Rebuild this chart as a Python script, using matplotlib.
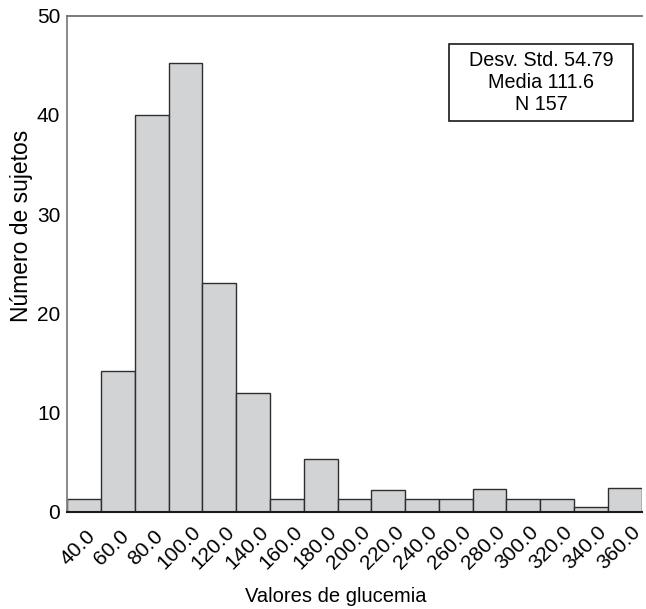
import matplotlib
matplotlib.use("Agg")
import matplotlib.pyplot as plt
from matplotlib.transforms import ScaledTranslation
from matplotlib.patches import Rectangle

plt.rcParams['font.family'] = ['Liberation Sans', 'DejaVu Sans']

bin_centers = [40, 60, 80, 100, 120, 140, 160, 180, 200, 220, 240, 260, 280, 300, 320, 340, 360]
counts = [1.3, 14.2, 40.0, 45.2, 23.1, 12.0, 1.3, 5.3, 1.3, 2.2, 1.3, 1.3, 2.3, 1.3, 1.3, 0.5, 2.4]
tick_labels = [f"{v:.1f}" for v in bin_centers]
stats_lines = ["Desv. Std. 54.79", "Media 111.6", "N 157"]
y_ticks = [0, 10, 20, 30, 40, 50]

fig = plt.figure(figsize=(6.46, 6.09), dpi=100)
ax = fig.add_axes([0.1042, 0.1598, 0.889, 0.8144])

ax.bar(bin_centers, counts, width=20, color='#d2d3d5', edgecolor='#2e2e2e', linewidth=1.0, zorder=2)

ax.set_xlim(30, 370)
ax.set_ylim(0, 50)
ax.set_xticks(bin_centers)
ax.set_xticklabels(tick_labels, rotation=45, ha='center', va='center', rotation_mode='anchor', fontsize=15)
ax.set_yticks(y_ticks)
ax.set_yticklabels([str(v) for v in y_ticks], fontsize=15)
ax.tick_params(axis='both', length=0)
ax.tick_params(axis='y', pad=5)
ax.tick_params(axis='x', pad=26)
shift = ScaledTranslation(-6 / 100, 0, fig.dpi_scale_trans)
for lab in ax.get_xticklabels():
    lab.set_transform(lab.get_transform() + shift)

ax.spines['right'].set_visible(False)
ax.spines['left'].set_color('#808080')
ax.spines['left'].set_linewidth(1.3)
ax.spines['top'].set_color('#707070')
ax.spines['top'].set_linewidth(1.3)
ax.spines['bottom'].set_color('#1a1a1a')
ax.spines['bottom'].set_linewidth(1.5)
ax.spines['bottom'].set_zorder(3)

ax.set_xlabel("Valores de glucemia", fontsize=14.5)
ax.xaxis.set_label_coords(0.468, -0.152)
ax.set_ylabel("Número de sujetos", fontsize=16.5)
ax.yaxis.set_label_coords(-0.060, 0.576)

ax.add_patch(Rectangle((0.6645, 0.7877), 0.3204, 0.1553, transform=ax.transAxes,
                       facecolor='white', edgecolor='#1a1a1a', linewidth=1.2, zorder=4))
ax.text(0.8247, 0.8653, "\n".join(stats_lines), transform=ax.transAxes,
        ha='center', va='center', fontsize=14.2, linespacing=1.2, zorder=5)

fig.savefig("out.png", dpi=100)
